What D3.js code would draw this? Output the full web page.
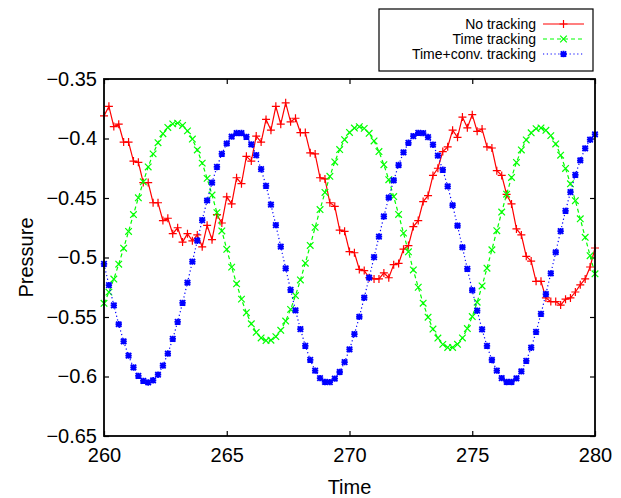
<!DOCTYPE html>
<html>
<head>
<meta charset="utf-8">
<script src="https://cdn.jsdelivr.net/npm/d3@7"></script>
<style>
body { margin: 0; background: #fff; }
svg { display: block; font-family: "Liberation Sans", Arial, Helvetica, sans-serif; }
</style>
</head>
<body>
<svg width="621" height="498"></svg>
<script>
// sample times (every 0.2)
var times = [
  260.0, 260.2, 260.4, 260.6, 260.8, 261.0, 261.2, 261.4, 261.6, 261.8,
  262.0, 262.2, 262.4, 262.6, 262.8, 263.0, 263.2, 263.4, 263.6, 263.8,
  264.0, 264.2, 264.4, 264.6, 264.8, 265.0, 265.2, 265.4, 265.6, 265.8,
  266.0, 266.2, 266.4, 266.6, 266.8, 267.0, 267.2, 267.4, 267.6, 267.8,
  268.0, 268.2, 268.4, 268.6, 268.8, 269.0, 269.2, 269.4, 269.6, 269.8,
  270.0, 270.2, 270.4, 270.6, 270.8, 271.0, 271.2, 271.4, 271.6, 271.8,
  272.0, 272.2, 272.4, 272.6, 272.8, 273.0, 273.2, 273.4, 273.6, 273.8,
  274.0, 274.2, 274.4, 274.6, 274.8, 275.0, 275.2, 275.4, 275.6, 275.8,
  276.0, 276.2, 276.4, 276.6, 276.8, 277.0, 277.2, 277.4, 277.6, 277.8,
  278.0, 278.2, 278.4, 278.6, 278.8, 279.0, 279.2, 279.4, 279.6, 279.8,
  280.0
];

var noTracking = [
  -0.381, -0.373, -0.390, -0.388, -0.403, -0.403, -0.419, -0.420, -0.437, -0.437,
  -0.454, -0.454, -0.469, -0.467, -0.480, -0.475, -0.487, -0.480, -0.486, -0.481,
  -0.491, -0.473, -0.485, -0.464, -0.471, -0.449, -0.455, -0.433, -0.438, -0.415,
  -0.419, -0.398, -0.403, -0.384, -0.393, -0.373, -0.388, -0.370, -0.386, -0.383,
  -0.395, -0.395, -0.412, -0.413, -0.433, -0.434, -0.454, -0.457, -0.477, -0.478,
  -0.495, -0.496, -0.510, -0.511, -0.517, -0.518, -0.518, -0.513, -0.517, -0.506,
  -0.505, -0.493, -0.490, -0.474, -0.469, -0.453, -0.448, -0.431, -0.425, -0.411,
  -0.407, -0.393, -0.399, -0.382, -0.391, -0.380, -0.394, -0.392, -0.407, -0.408,
  -0.427, -0.431, -0.447, -0.455, -0.476, -0.481, -0.499, -0.503, -0.520, -0.520,
  -0.534, -0.537, -0.537, -0.540, -0.535, -0.534, -0.529, -0.523, -0.518, -0.508,
  -0.492
];

var timeTracking = [
  -0.5385, -0.5291, -0.5181, -0.5056, -0.4922, -0.4781, -0.4639, -0.4498, -0.4364, -0.4239,
  -0.4129, -0.4035, -0.3960, -0.3907, -0.3877, -0.3871, -0.3890, -0.3936, -0.4005, -0.4096,
  -0.4207, -0.4335, -0.4475, -0.4623, -0.4777, -0.4931, -0.5081, -0.5221, -0.5350, -0.5464,
  -0.5557, -0.5629, -0.5676, -0.5698, -0.5695, -0.5665, -0.5612, -0.5534, -0.5436, -0.5320,
  -0.5189, -0.5048, -0.4899, -0.4747, -0.4597, -0.4453, -0.4318, -0.4197, -0.4093, -0.4010,
  -0.3949, -0.3912, -0.3900, -0.3915, -0.3956, -0.4021, -0.4110, -0.4220, -0.4346, -0.4488,
  -0.4638, -0.4795, -0.4952, -0.5105, -0.5250, -0.5384, -0.5502, -0.5601, -0.5677, -0.5730,
  -0.5756, -0.5756, -0.5729, -0.5676, -0.5597, -0.5496, -0.5376, -0.5239, -0.5090, -0.4935,
  -0.4775, -0.4618, -0.4468, -0.4327, -0.4201, -0.4096, -0.4012, -0.3952, -0.3917, -0.3911,
  -0.3931, -0.3976, -0.4046, -0.4140, -0.4252, -0.4381, -0.4523, -0.4675, -0.4830, -0.4985,
  -0.5137
];

var convTracking = [
  -0.5054, -0.5232, -0.5402, -0.5561, -0.5705, -0.5825, -0.5924, -0.5995, -0.6037, -0.6050,
  -0.6032, -0.5985, -0.5909, -0.5807, -0.5684, -0.5541, -0.5381, -0.5211, -0.5035, -0.4859,
  -0.4686, -0.4521, -0.4371, -0.4239, -0.4129, -0.4042, -0.3984, -0.3954, -0.3954, -0.3986,
  -0.4049, -0.4140, -0.4258, -0.4398, -0.4556, -0.4728, -0.4909, -0.5091, -0.5272, -0.5444,
  -0.5602, -0.5742, -0.5860, -0.5951, -0.6014, -0.6046, -0.6047, -0.6018, -0.5962, -0.5879,
  -0.5772, -0.5644, -0.5498, -0.5338, -0.5170, -0.4997, -0.4824, -0.4655, -0.4496, -0.4351,
  -0.4223, -0.4117, -0.4036, -0.3980, -0.3953, -0.3955, -0.3988, -0.4052, -0.4144, -0.4263,
  -0.4402, -0.4561, -0.4733, -0.4914, -0.5096, -0.5275, -0.5447, -0.5604, -0.5743, -0.5861,
  -0.5951, -0.6014, -0.6046, -0.6046, -0.6016, -0.5957, -0.5869, -0.5758, -0.5625, -0.5474,
  -0.5307, -0.5133, -0.4956, -0.4778, -0.4608, -0.4450, -0.4306, -0.4183, -0.4083, -0.4010,
  -0.3965
];

var seriesNames = ["No tracking", "Time tracking", "Time+conv. tracking"];
var xTicks = [260, 265, 270, 275, 280];
var yTicks = [-0.65, -0.6, -0.55, -0.5, -0.45, -0.4, -0.35];
var yTickLabels = ["\u22120.65", "\u22120.6", "\u22120.55", "\u22120.5", "\u22120.45", "\u22120.4", "\u22120.35"];

var svg = d3.select("svg"),
	margin = {top: 79, right: 26, bottom: 62, left: 104},
	width = +svg.attr("width") - margin.left - margin.right,
	height = +svg.attr("height") - margin.top - margin.bottom,
	g = svg.append("g").attr("transform", "translate(" + margin.left + "," + margin.top + ")");

var x = d3.scaleLinear().domain([260, 280]).range([0, width]);
var y = d3.scaleLinear().domain([-0.65, -0.35]).range([height, 0]);

var styles = [
	{color: "#ff0000", dash: null, mark: "plus"},
	{color: "#00ff00", dash: "4,3", mark: "cross"},
	{color: "#0000ff", dash: "1.2,2.6", mark: "star"}
];
var allSeries = [noTracking, timeTracking, convTracking];

function markPath(type, s) {
	var p = "M" + (-s) + ",0H" + s + "M0," + (-s) + "V" + s;
	var xx = "M" + (-s) + "," + (-s) + "L" + s + "," + s + "M" + (-s) + "," + s + "L" + s + "," + (-s);
	if (type == "plus") return p;
	if (type == "cross") return xx;
	var t = s * 0.85;
	return p + "M" + (-t) + "," + (-t) + "L" + t + "," + t + "M" + (-t) + "," + t + "L" + t + "," + (-t);
}
var markSize = {plus: 4, cross: 3.3, star: 3.2};
var markWidth = {plus: 1.2, cross: 1.2, star: 1.8};

// axes: ticks inward on all four sides
var fmtY = function(d) { return yTickLabels[yTicks.indexOf(d)]; };
var axB = g.append("g").attr("transform", "translate(0," + height + ")")
	.call(d3.axisBottom(x).tickValues(xTicks).tickSizeInner(-5).tickSizeOuter(0).tickPadding(12).tickFormat(d3.format("d")));
var axT = g.append("g")
	.call(d3.axisTop(x).tickValues(xTicks).tickSizeInner(-5).tickSizeOuter(0).tickFormat(""));
var axL = g.append("g")
	.call(d3.axisLeft(y).tickValues(yTicks).tickSizeInner(-5).tickSizeOuter(0).tickPadding(7).tickFormat(fmtY));
var axR = g.append("g").attr("transform", "translate(" + width + ",0)")
	.call(d3.axisRight(y).tickValues(yTicks).tickSizeInner(-5).tickSizeOuter(0).tickFormat(""));
[axB, axT, axL, axR].forEach(function(a) {
	a.select(".domain").remove();
	a.selectAll("line").attr("stroke", "#000").attr("stroke-width", 1.2);
	a.selectAll("text").attr("font-size", 20).attr("fill", "#000").attr("font-family", null);
});

// data lines and points
allSeries.forEach(function(vals, k) {
	var st = styles[k];
	var pts = vals.map(function(v, i) { return [times[i], v]; });
	var line = d3.line()
		.x(function(d) { return x(d[0]); })
		.y(function(d) { return y(d[1]); });
	g.append("path")
		.datum(pts)
		.attr("fill", "none")
		.attr("stroke", st.color)
		.attr("stroke-width", 1.2)
		.attr("stroke-dasharray", st.dash)
		.attr("d", line);
	g.append("g").selectAll("path")
		.data(pts)
		.enter().append("path")
		.attr("transform", function(d) { return "translate(" + x(d[0]) + "," + y(d[1]) + ")"; })
		.attr("d", markPath(st.mark, markSize[st.mark]))
		.attr("fill", "none")
		.attr("stroke", st.color)
		.attr("stroke-width", markWidth[st.mark]);
});

// frame
g.append("rect")
	.attr("width", width)
	.attr("height", height)
	.attr("fill", "none")
	.attr("stroke", "#000")
	.attr("stroke-width", 1.8);

// axis titles
svg.append("text")
	.attr("x", margin.left + width / 2)
	.attr("y", 494)
	.attr("text-anchor", "middle")
	.attr("font-size", 20)
	.text("Time");
svg.append("text")
	.attr("transform", "translate(33," + (margin.top + height / 2) + ") rotate(-90)")
	.attr("text-anchor", "middle")
	.attr("font-size", 20)
	.text("Pressure");

// legend
var leg = svg.append("g");
leg.append("rect")
	.attr("x", 379).attr("y", 9)
	.attr("width", 214).attr("height", 62)
	.attr("fill", "#fff")
	.attr("stroke", "#000")
	.attr("stroke-width", 1.2);
seriesNames.forEach(function(name, k) {
	var st = styles[k], cy = 24 + k * 15;
	leg.append("text")
		.attr("x", 536).attr("y", cy + 5)
		.attr("text-anchor", "end")
		.attr("font-size", 14)
		.text(name);
	leg.append("line")
		.attr("x1", 543).attr("x2", 584)
		.attr("y1", cy).attr("y2", cy)
		.attr("stroke", st.color)
		.attr("stroke-width", 1.2)
		.attr("stroke-dasharray", st.dash);
	leg.append("path")
		.attr("transform", "translate(563.5," + cy + ")")
		.attr("d", markPath(st.mark, markSize[st.mark]))
		.attr("fill", "none")
		.attr("stroke", st.color)
		.attr("stroke-width", markWidth[st.mark]);
});
</script>
</body>
</html>
